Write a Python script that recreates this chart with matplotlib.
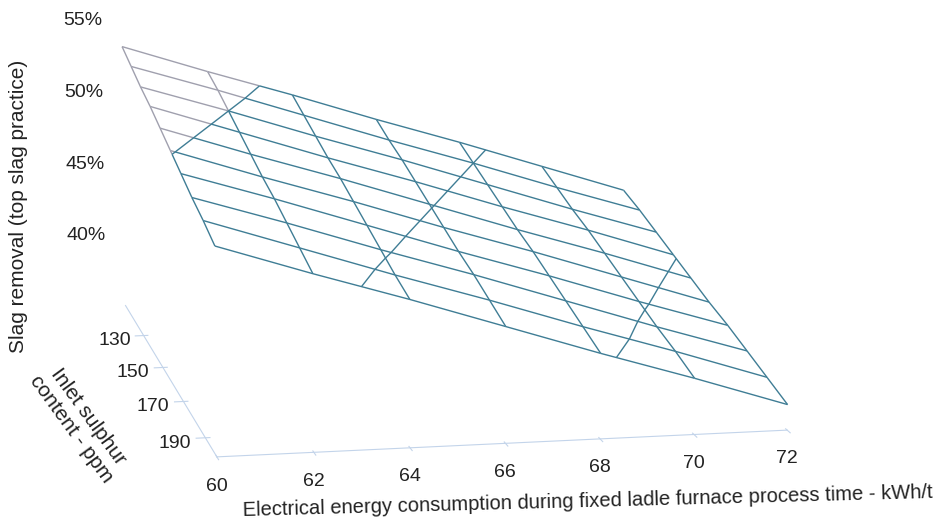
import numpy as np
import matplotlib
matplotlib.use("Agg")
import matplotlib.pyplot as plt
from mpl_toolkits.mplot3d import proj3d
from mpl_toolkits.mplot3d.art3d import Line3DCollection

plt.rcParams['font.family'] = ['Liberation Sans', 'DejaVu Sans']

# energy (kWh/t) and inlet sulphur (ppm) grid
energy = [60, 62, 64, 66, 68, 70, 72]
sulphur = [110, 120, 130, 140, 150, 160, 170, 180, 190, 200]

# slag removal in %, one row per sulphur value
slag_110 = [53.0, 51.1, 49.3, 47.4, 45.6, 43.7, 41.8]
slag_120 = [52.4, 50.6, 48.7, 46.8, 45.0, 43.1, 41.3]
slag_130 = [51.8, 50.0, 48.1, 46.3, 44.4, 42.5, 40.7]
slag_140 = [51.3, 49.4, 47.5, 45.7, 43.8, 42.0, 40.1]
slag_150 = [50.7, 48.8, 47.0, 45.1, 43.2, 41.4, 39.5]
slag_160 = [50.1, 48.2, 46.4, 44.5, 42.7, 40.8, 38.9]
slag_170 = [49.5, 47.7, 45.8, 43.9, 42.1, 40.2, 38.4]
slag_180 = [48.9, 47.1, 45.2, 43.4, 41.5, 39.6, 37.8]
slag_190 = [48.4, 46.5, 44.6, 42.8, 40.9, 39.1, 37.2]
slag_200 = [47.8, 45.9, 44.1, 42.2, 40.3, 38.5, 36.6]

x_ticks = [60, 62, 64, 66, 68, 70, 72]
y_ticks = [130, 150, 170, 190]
z_ticks = [40, 45, 50, 55]
z_ticklabels = ["40%", "45%", "50%", "55%"]

teal = "#3f7d95"
grey = "#a0a0ae"
axcol = "#c3d4ea"
txt = "#222222"

E, S = np.meshgrid(energy, sulphur)
Z = np.array([slag_110, slag_120, slag_130, slag_140, slag_150,
              slag_160, slag_170, slag_180, slag_190, slag_200])

fig = plt.figure(figsize=(9.49, 5.26), dpi=100)
ax = fig.add_axes([-0.277, -0.226, 1.45, 1.6], projection="3d")
ax.view_init(elev=11, azim=-101)
ax.set_box_aspect((1, 1.24, 0.57), zoom=1.063)


def split_line(xs, ys, zs, level=50.0):
    # break a grid line where it crosses the level, grey above / teal below
    hi, lo = [], []
    for i in range(len(xs) - 1):
        p0 = np.array([xs[i], ys[i], zs[i]], float)
        p1 = np.array([xs[i + 1], ys[i + 1], zs[i + 1]], float)
        a, b = p0[2] - level, p1[2] - level
        if a * b < 0:
            m = p0 + (p1 - p0) * (a / (a - b))
            (hi if a > 0 else lo).append([p0, m])
            (hi if b > 0 else lo).append([m, p1])
        else:
            (hi if (a + b) > 0 else lo).append([p0, p1])
    return hi, lo


hi_segs, lo_segs = [], []
for r in range(Z.shape[0]):
    h, l = split_line(E[r], S[r], Z[r])
    hi_segs += h
    lo_segs += l
for c in range(Z.shape[1]):
    h, l = split_line(E[:, c], S[:, c], Z[:, c])
    hi_segs += h
    lo_segs += l

ax.add_collection3d(Line3DCollection(hi_segs, colors=grey, linewidths=1.0))
ax.add_collection3d(Line3DCollection(lo_segs, colors=teal, linewidths=1.0))
# band boundaries on the surface
ax.contour(E, S, Z, levels=[40, 45, 50], colors=teal, linewidths=1.0)

ax.set_xlim(60, 72)
ax.set_ylim(200, 110)
ax.set_zlim(35, 55)
ax.set_xticks(x_ticks)
ax.set_yticks(y_ticks)
ax.set_zticks(z_ticks)
ax.set_zticklabels(z_ticklabels)

for a in (ax.xaxis, ax.yaxis, ax.zaxis):
    a.set_pane_color((1, 1, 1, 0))
    a.pane.set_edgecolor((1, 1, 1, 0))
    a.line.set_color(axcol)
    a.set_tick_params(labelsize=14, color=axcol, labelcolor=txt)
# floor tick labels are drawn by hand below
ax.xaxis.set_tick_params(labelbottom=False)
ax.yaxis.set_tick_params(labelbottom=False)
ax.zaxis.line.set_color((1, 1, 1, 0))
ax.zaxis.set_tick_params(color=(1, 1, 1, 0), pad=13)
ax.grid(False)

# energy under the front edge, sulphur left of the depth axis
M = ax.get_proj()
for e in x_ticks:
    px, py, _ = proj3d.proj_transform(e, 200, 33.2, M)
    ax.text2D(px, py, str(e), transform=ax.transData, fontsize=14, color=txt,
              ha="center", va="center")
for s in y_ticks:
    px, py, _ = proj3d.proj_transform(59.7, s, 34.7, M)
    ax.text2D(px, py, str(s), transform=ax.transData, fontsize=14, color=txt,
              ha="right", va="center")

# axis titles placed as figure text
fig.text(588 / 949, 1 - 501 / 526,
         "Electrical energy consumption during fixed ladle furnace process time - kWh/t",
         fontsize=14.5, color=txt, rotation=1.5, rotation_mode="anchor",
         ha="center", va="center")
fig.text(80 / 949, 1 - 423 / 526, "Inlet sulphur\ncontent - ppm", fontsize=15,
         color=txt, rotation=-54, rotation_mode="anchor", ha="center", va="center",
         linespacing=1.15)
fig.text(19 / 949, 1 - 206 / 526, "Slag removal (top slag practice)", fontsize=15,
         color=txt, rotation=90, rotation_mode="anchor", ha="center", va="center")

fig.savefig("out.png", dpi=100)
